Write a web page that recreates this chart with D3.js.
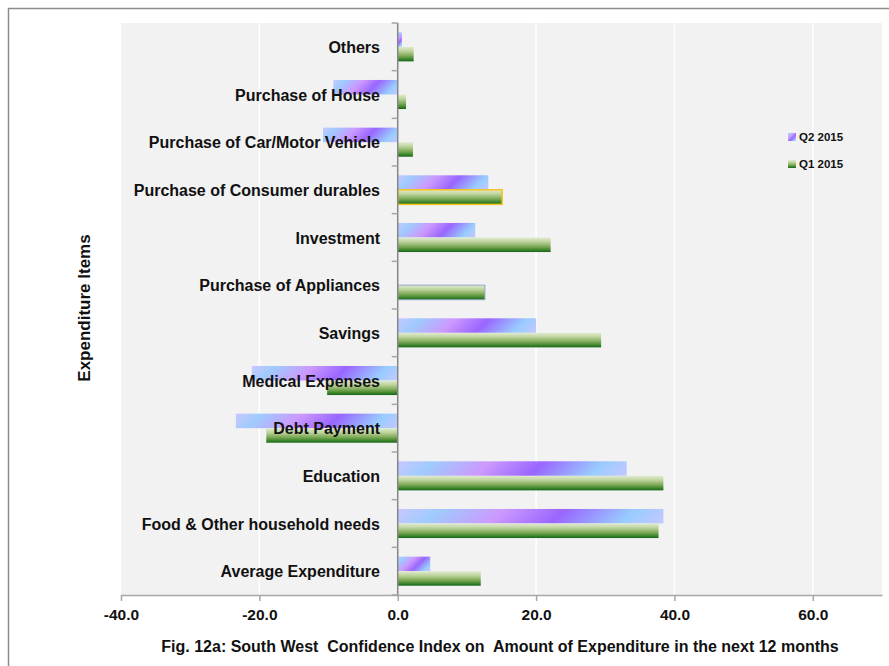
<!DOCTYPE html>
<html>
<head>
<meta charset="utf-8">
<script src="https://cdn.jsdelivr.net/npm/d3@7"></script>
<style>
  body { margin: 0; background: #fff; }
  svg { display: block; font-family: "Liberation Sans", Arial, sans-serif; }
  .lbl { font-weight: bold; font-size: 16px; fill: #111; }
</style>
</head>
<body>
<svg width="889" height="666"></svg>
<script>
// categories, top to bottom as drawn
const categories = [
  "Others",
  "Purchase of House",
  "Purchase of Car/Motor Vehicle",
  "Purchase of Consumer durables",
  "Investment",
  "Purchase of Appliances",
  "Savings",
  "Medical Expenses",
  "Debt Payment",
  "Education",
  "Food & Other household needs",
  "Average Expenditure"
];
const q2 = [0.6, -9.3, -10.8, 13.1, 11.2, 0, 20.0, -21.1, -23.4, 33.1, 38.4, 4.7];
const q1 = [2.3, 1.2, 2.2, 15.1, 22.1, 12.6, 29.4, -10.2, -19.0, 38.4, 37.7, 12.0];
const seriesNames = ["Q2 2015", "Q1 2015"];
const xTicks = [-40, -20, 0, 20, 40, 60];

const svg = d3.select("svg");
const defs = svg.append("defs");

// frame
svg.append("rect")
  .attr("x", 8.5).attr("y", 8.5)
  .attr("width", 1000).attr("height", 1000)
  .attr("fill", "none").attr("stroke", "#8c8c8c").attr("stroke-width", 1.5);

// scales
const x = d3.scaleLinear().domain([-40, 70]).range([121, 882]);
const y = d3.scaleBand().domain(categories).range([23, 595])
  .paddingInner(0.39).paddingOuter(0.195);
const ySub = d3.scaleBand().domain(seriesNames).range([0, y.bandwidth()]);
const step = y.step();

// plot background
svg.append("rect")
  .attr("x", x(-40)).attr("y", 23)
  .attr("width", x(70) - x(-40)).attr("height", 595 - 23)
  .attr("fill", "#f2f2f2");

// gridlines
svg.append("g")
  .selectAll("line")
  .data(xTicks.filter(d => d !== -40 && d !== 0))
  .enter()
  .append("line")
  .attr("x1", d => x(d)).attr("x2", d => x(d))
  .attr("y1", 23).attr("y2", 595)
  .attr("stroke", "#ffffff").attr("stroke-width", 1.5);

// green gradient (vertical)
const g1 = defs.append("linearGradient")
  .attr("id", "gq1").attr("x1", 0).attr("y1", 0).attr("x2", 0).attr("y2", 1);
[[0, "#e2ebd3"], [0.3, "#bcd39a"], [0.6, "#82ac5c"], [0.85, "#3e862c"], [1, "#146416"]]
  .forEach(s => g1.append("stop").attr("offset", s[0]).attr("stop-color", s[1]));

const q2Stops = [[0, "#c8c8ff"], [0.15, "#9fcbfd"], [0.38, "#cc99ff"], [0.6, "#9966ff"], [0.85, "#99ccff"], [1, "#c4c8ff"]];

// one diagonal gradient per Q2 bar so the stripes sit at 45 degrees
function q2Gradient(id, bx, by, w, h) {
  const g = defs.append("linearGradient")
    .attr("id", id)
    .attr("gradientUnits", "userSpaceOnUse")
    .attr("x1", bx).attr("y1", by)
    .attr("x2", bx + (w + h) / 2).attr("y2", by + (w + h) / 2);
  q2Stops.forEach(s => g.append("stop").attr("offset", s[0]).attr("stop-color", s[1]));
  return "url(#" + id + ")";
}

const rows = categories.map((c, i) => ({ cat: c, q2: q2[i], q1: q1[i] }));

const barG = svg.append("g");
rows.forEach((d, i) => {
  // Q2 bar
  if (d.q2 !== 0) {
    const bx = x(Math.min(0, d.q2));
    const w = Math.abs(x(d.q2) - x(0));
    const by = y(d.cat) + ySub("Q2 2015");
    const h = ySub.bandwidth();
    barG.append("rect")
      .attr("x", bx).attr("y", by).attr("width", w).attr("height", h)
      .attr("fill", q2Gradient("gq2_" + i, bx, by, w, h));
  }
  // Q1 bar
  const bx1 = x(Math.min(0, d.q1));
  const w1 = Math.abs(x(d.q1) - x(0));
  const r = barG.append("rect")
    .attr("x", bx1).attr("y", y(d.cat) + ySub("Q1 2015"))
    .attr("width", w1).attr("height", ySub.bandwidth())
    .attr("fill", "url(#gq1)");
  if (d.cat === "Purchase of Consumer durables") {
    r.attr("stroke", "#f5c518").attr("stroke-width", 1.5);
  } else if (d.cat === "Purchase of Appliances") {
    r.attr("stroke", "#8fa9c8").attr("stroke-width", 1);
  }
});

// y axis line and ticks at band boundaries
svg.append("line")
  .attr("x1", x(0)).attr("x2", x(0)).attr("y1", 23).attr("y2", 595)
  .attr("stroke", "#868686").attr("stroke-width", 1.5);
svg.append("g")
  .selectAll("line")
  .data(d3.range(categories.length + 1))
  .enter()
  .append("line")
  .attr("x1", x(0) - 6).attr("x2", x(0))
  .attr("y1", i => 23 + i * step).attr("y2", i => 23 + i * step)
  .attr("stroke", "#a6a6a6").attr("stroke-width", 1.5);

// x axis
const xAxis = svg.append("g")
  .attr("transform", "translate(0,595)")
  .call(d3.axisBottom(x).tickValues(xTicks).tickSize(6).tickSizeOuter(0)
    .tickFormat(d3.format(".1f")));
xAxis.select(".domain").attr("stroke", "#a6a6a6").attr("stroke-width", 1.5);
xAxis.selectAll(".tick line").attr("stroke", "#a6a6a6").attr("stroke-width", 1.5);
xAxis.selectAll(".tick text")
  .attr("class", "lbl").attr("font-size", null).attr("font-family", null)
  .style("font-size", "15.5px").attr("y", 14).attr("dy", "0.71em")
  .text(d => d3.format(".1f")(d).replace("\u2212", "-"));

// category labels (on top of bars)
svg.append("g")
  .selectAll("text")
  .data(categories)
  .enter()
  .append("text")
  .attr("class", "lbl")
  .attr("x", 380)
  .attr("y", d => y(d) + y.bandwidth() / 2 + 6)
  .attr("text-anchor", "end")
  .text(d => d);

// y axis title
svg.append("text")
  .attr("class", "lbl")
  .attr("transform", "translate(84,308) rotate(-90)")
  .attr("y", 6)
  .attr("text-anchor", "middle")
  .style("font-size", "17px")
  .text("Expenditure Items");

// caption
svg.append("text")
  .attr("class", "lbl")
  .attr("x", 500).attr("y", 652)
  .attr("text-anchor", "middle")
  .style("white-space", "pre")
  .text("Fig. 12a: South West  Confidence Index on  Amount of Expenditure in the next 12 months");

// legend
const lq2 = defs.append("linearGradient")
  .attr("id", "lq2").attr("x1", 0).attr("y1", 0).attr("x2", 1).attr("y2", 1);
q2Stops.forEach(s => lq2.append("stop").attr("offset", s[0]).attr("stop-color", s[1]));

const legend = svg.append("g").attr("transform", "translate(788,133)");
seriesNames.forEach((s, i) => {
  legend.append("rect")
    .attr("x", 0).attr("y", i * 27)
    .attr("width", 8).attr("height", 8)
    .attr("fill", i === 0 ? "url(#lq2)" : "url(#gq1)");
  legend.append("text")
    .attr("x", 11).attr("y", i * 27 + 8)
    .style("font-size", "11.5px").style("font-weight", "bold").attr("fill", "#111")
    .text(s);
});
</script>
</body>
</html>
